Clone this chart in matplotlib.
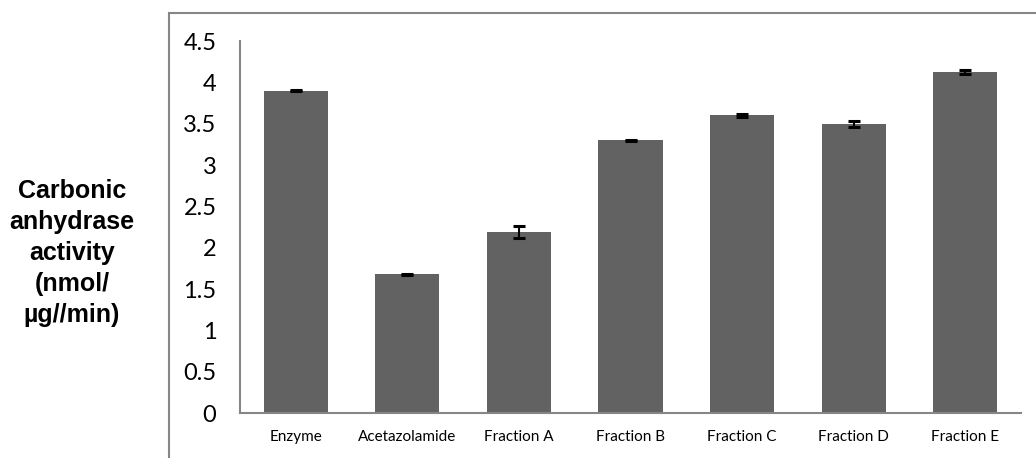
import matplotlib.pyplot as plt
from matplotlib.patches import Rectangle
import numpy as np

# values
samples = ["Enzyme", "Acetazolamide", "Fraction A", "Fraction B",
           "Fraction C", "Fraction D", "Fraction E"]
activity = [3.90, 1.68, 2.19, 3.30, 3.60, 3.50, 4.125]
errors = [0.006, 0.006, 0.07, 0.006, 0.02, 0.035, 0.025]
yticks = [0, 0.5, 1, 1.5, 2, 2.5, 3, 3.5, 4, 4.5]
ylabel = "Carbonic\nanhydrase\nactivity\n(nmol/\nµg//min)"

W, H = 1036, 458
fig = plt.figure(figsize=(W / 100, H / 100), dpi=100)
ax = fig.add_axes([240 / W, (H - 413) / H, (1021 - 240) / W, (413 - 41) / H])

x = np.arange(len(samples))
ax.bar(x, activity, width=0.575, color="#626262", zorder=2)
ax.errorbar(x, activity, yerr=errors, fmt="none", ecolor="black",
            elinewidth=1.5, capsize=4.5, capthick=2.2, zorder=3)

ax.set_xlim(-0.5, len(samples) - 0.5)
ax.set_ylim(0, 4.5)
ax.set_yticks(yticks)
ax.set_yticklabels([("%g" % v) for v in yticks], fontfamily="Lato", fontsize=17)
ax.set_xticks(x)
ax.set_xticklabels(samples, fontfamily="Lato", fontsize=11)
ax.tick_params(axis="y", length=0, pad=17)
ax.tick_params(axis="x", length=0, pad=12)

for s in ["top", "right"]:
    ax.spines[s].set_visible(False)
for s in ["left", "bottom"]:
    ax.spines[s].set_color("#868686")
    ax.spines[s].set_linewidth(1.5)

fig.text(72 / W, 1 - 253 / H, ylabel, ha="center", va="center",
         fontfamily="Liberation Sans", fontweight="bold", fontsize=18,
         linespacing=1.38)

# outer chart border (cropped at right and bottom)
border = Rectangle((169 / W, -0.05), 1.1, 1 - 13 / H + 0.05,
                   transform=fig.transFigure, fill=False,
                   edgecolor="#868686", linewidth=1.5, clip_on=False)
fig.patches.append(border)

fig.savefig("out.png", dpi=100)
